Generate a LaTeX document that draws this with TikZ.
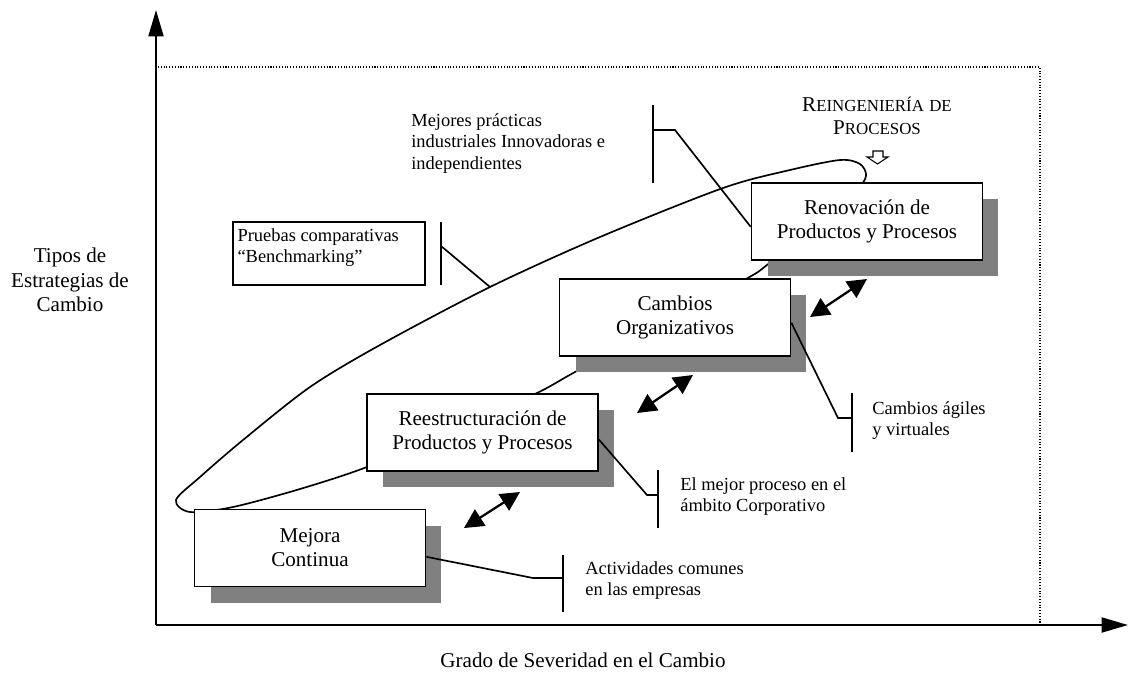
\documentclass[tikz,border=0pt]{standalone}
\usepackage{fontspec}
\setmainfont{Liberation Serif}
\usetikzlibrary{arrows.meta,shadows}

% fake small caps: first letter full size, rest smaller
\newcommand\fsc[2]{#1{\fontsize{9.6}{12}\selectfont #2}}

\tikzset{
  stage/.style={draw, fill=white, line width=1pt, inner sep=0pt,
    minimum width=4.62cm, minimum height=1.54cm, align=center,
    font=\fontsize{12}{13.6}\selectfont,
    drop shadow={shadow xshift=.32cm, shadow yshift=-.32cm, fill=gray, opacity=1}},
  notetext/.style={anchor=north west, align=left, inner sep=0pt,
    font=\fontsize{10.5}{12.2}\selectfont},
  leader/.style={line width=.95pt},
  dblarrow/.style={line width=1.3pt,
    {Triangle[length=11pt,width=11pt]}-{Triangle[length=11pt,width=11pt]}},
  axisline/.style={line width=1.2pt, -{Triangle[length=15pt,width=8.5pt]}}
}

\begin{document}
\begin{tikzpicture}
\begin{scope}[x=.02cm,y=-.02cm]
\useasboundingbox (0,0) rectangle (1128,677);

% frame and axes
\draw[densely dotted, line width=.6pt] (158,67) -- (1040,67) -- (1040,623);
\coordinate (o) at (156,625);
\draw[axisline] (o) -- (156,10);
\draw[axisline] (o) -- (1128,625);
\node[align=center, font=\fontsize{12}{14}\selectfont] (ylab) at (70,280) {Tipos de\\Estrategias de\\Cambio};
\node[font=\fontsize{12}{14}\selectfont] (xlab) at (583,660) {Grado de Severidad en el Cambio};

% the loop round all four stages
\draw[line width=.95pt] plot[smooth cycle, tension=.5] coordinates {
  (190,512) (233,507) (300,489) (367,467) (450,432) (535,394) (575,372)
  (660,326) (746,279) (767,265) (815,225) (855,192) (866,176) (860,164)
  (840,160) (790,170) (723,188) (600,237) (490,287) (380,345) (310,387)
  (243,440) (200,477) (176,500)};

% stages
\node[stage] (mej) at (310,548) {Mejora\\Continua};
\node[stage] (ree) at (482.5,432.5) {Reestructuración de\\Productos y Procesos};
\node[stage] (org) at (675,317.5) {Cambios\\Organizativos};
\node[stage] (ren) at (867,221.5) {Renovación de\\Productos y Procesos};

% arrows between stages
\coordinate (a1) at (464,528); \coordinate (a2) at (520,492);
\coordinate (a3) at (637,413); \coordinate (a4) at (693,375);
\coordinate (a5) at (810,317); \coordinate (a6) at (867,279);
\draw[dblarrow] (a1) -- (a2);
\draw[dblarrow] (a3) -- (a4);
\draw[dblarrow] (a5) -- (a6);

% remarks
\node[draw, line width=1pt, inner sep=0pt, minimum width=3.84cm, minimum height=1.26cm,
  font=\fontsize{10.5}{12.2}\selectfont] (prb) at (329,253.5)
  {\parbox[c][1cm][t]{3.66cm}{Pruebas comparativas\\“Benchmarking”}};
\coordinate (p1) at (441,222); \coordinate (p2) at (441,285);
\coordinate (p3) at (441,246); \coordinate (p4) at (490,287);
\draw[leader] (p1) -- (p2);
\draw[leader] (p3) -- (p4);

\node[notetext] (mpr) at (411,113) {Mejores prácticas\\industriales Innovadoras e\\independientes};
\coordinate (m1) at (653,105); \coordinate (m2) at (653,183);
\coordinate (m3) at (653,130); \coordinate (m4) at (675,130);
\draw[leader] (m1) -- (m2);
\draw[leader] (m3) -- (m4) -- ([yshift=-3pt]ren.west);

\node[notetext] (agi) at (872,401) {Cambios ágiles\\y virtuales};
\coordinate (c1) at (852,393); \coordinate (c2) at (852,452);
\coordinate (c3) at (852,418); \coordinate (c4) at (838,418);
\draw[leader] (c1) -- (c2);
\draw[leader] (c3) -- (c4) -- ([yshift=-3pt]org.east);

\node[notetext] (mpc) at (680,477) {El mejor proceso en el\\ámbito Corporativo};
\coordinate (e1) at (658,470); \coordinate (e2) at (658,528);
\coordinate (e3) at (658,495); \coordinate (e4) at (647,495);
\draw[leader] (e1) -- (e2);
\draw[leader] (e3) -- (e4) -- ([yshift=-4pt]ree.east);

\node[notetext] (act) at (585,561) {Actividades comunes\\en las empresas};
\coordinate (d1) at (563,555); \coordinate (d2) at (563,612);
\coordinate (d3) at (563,578); \coordinate (d4) at (533,578);
\draw[leader] (d1) -- (d2);
\draw[leader] (d3) -- (d4) -- ([yshift=-5pt]mej.east);

% reengineering label with hollow arrow
\node[align=center, font=\fontsize{12}{13}\selectfont] (rei) at (877,116)
  {\fsc{R}{EINGENIERÍA} \fsc{}{DE}\\\fsc{P}{ROCESOS}};
\draw[line width=.6pt] (873,151) -- (883,151) -- (883,157) -- (888,157) -- (877.5,164)
  -- (867,157) -- (873,157) -- cycle;
\end{scope}
\end{tikzpicture}
\end{document}
